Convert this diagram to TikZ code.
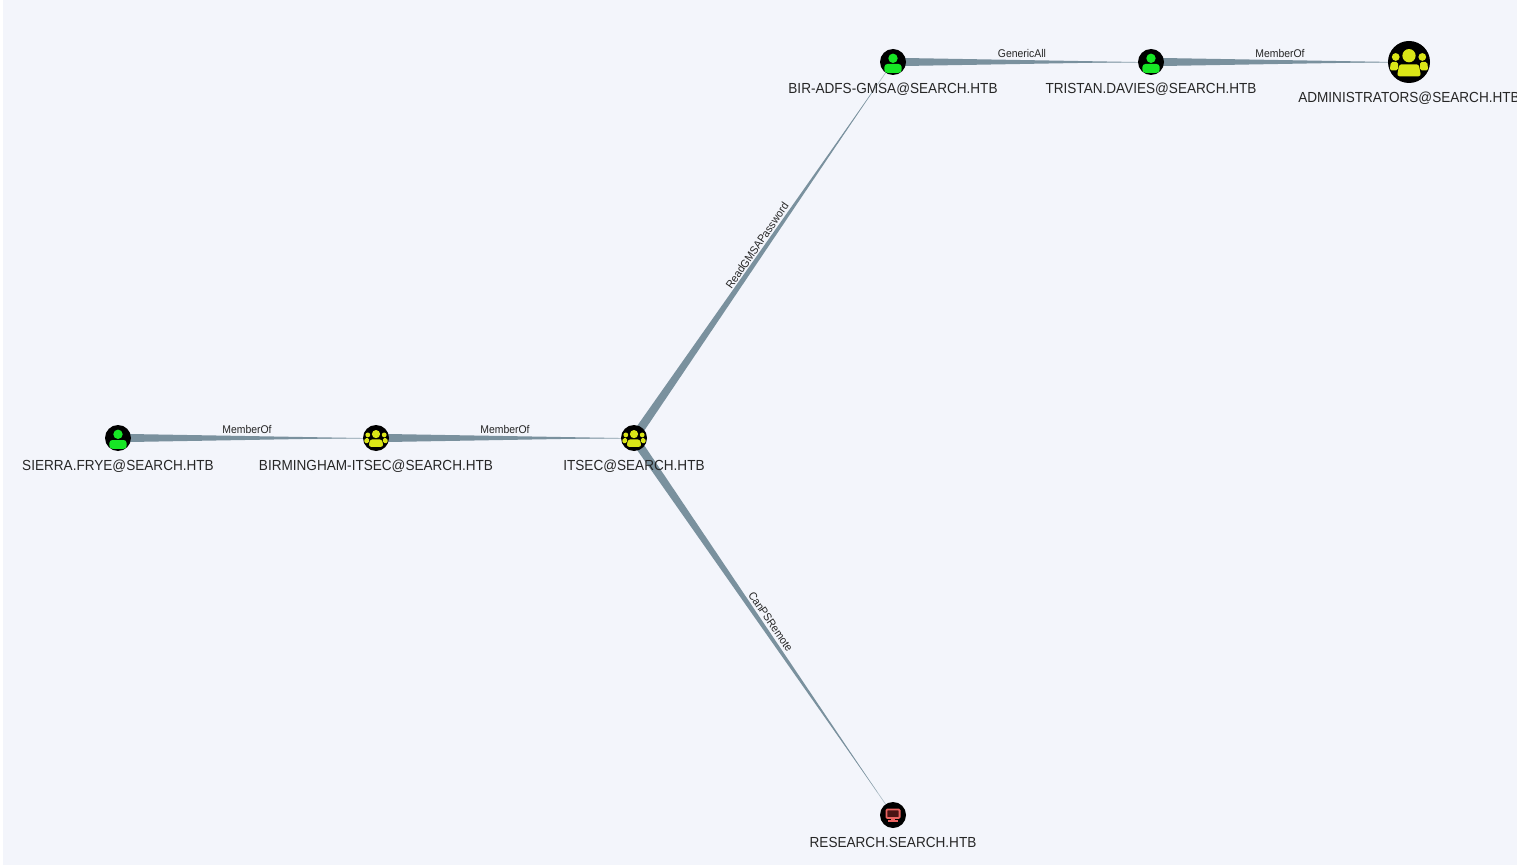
\documentclass[tikz,border=0pt]{standalone}
\usepackage{fontspec}
\setmainfont[FakeStretch=0.93]{Liberation Sans}
\usetikzlibrary{calc,backgrounds}
\definecolor{pagebg}{HTML}{F3F5FB}
\definecolor{edgegray}{HTML}{7A919E}
\definecolor{edgepale}{HTML}{B4C2CB}
\definecolor{usergreen}{HTML}{17E625}
\definecolor{groupyellow}{HTML}{DBE617}
\definecolor{hostred}{HTML}{E9625F}
\definecolor{screendark}{HTML}{4A1414}
\definecolor{labelgray}{HTML}{262626}
\tikzset{
    iconnode/.style={circle, fill=black, inner sep=0pt, minimum size=26pt},
    nodelabel/.style={text=labelgray, font=\fontsize{14.6}{16}\selectfont, inner sep=0pt},
    edgelabel/.style={text=labelgray, font=\fontsize{11.2}{12}\selectfont, inner sep=1.5pt},
    usericon/.pic={
        \fill[usergreen] (0,-3.7) circle (4.7);
        \fill[usergreen, rounded corners=3pt] (-8.6,10.8) -- (-8.6,2) -- (8.6,2) -- (8.6,10.8) -- cycle;
    },
    groupicon/.pic={
        \fill[groupyellow] (0,-3.9) circle (4.1);
        \fill[groupyellow] (-8.2,-3.1) circle (2.4);
        \fill[groupyellow] (8.2,-3.1) circle (2.4);
        \fill[groupyellow, rounded corners=1.6pt] (-11.9,5.1) -- (-11.2,0) -- (-6.8,0) -- (-6.8,5.1) -- cycle;
        \fill[groupyellow, rounded corners=1.6pt] (11.9,5.1) -- (11.2,0) -- (6.8,0) -- (6.8,5.1) -- cycle;
        \fill[groupyellow, rounded corners=2.4pt] (-7.4,8.8) -- (-6,1.4) -- (6,1.4) -- (7.4,8.8) -- cycle;
    },
    hosticon/.pic={
        \draw[hostred, fill=screendark, line width=1.8pt, rounded corners=1pt] (-6.6,-5.6) rectangle (6.6,3);
        \fill[hostred] (-1.6,3.5) rectangle (1.6,6);
        \fill[hostred] (-5,5.4) rectangle (5,7);
    },
}
\newcommand{\taperedge}[3][4.2pt]{%
    \draw[edgepale, line width=0.7pt] (#2.center) -- (#3.center);
    \fill[edgegray] ($(#2.center)!#1!90:(#3.center)$) -- ($(#2.center)!0.94!(#3.center)$)
        -- ($(#2.center)!#1!-90:(#3.center)$) -- cycle;
}
\begin{document}
\begin{tikzpicture}[x=1pt, y=-1pt]
    \useasboundingbox (0,0) rectangle (1517,866);
    \clip (0,0) rectangle (1517,866);

    % nodes
    \node[iconnode] (sierra) at (118,438) {};
    \node[iconnode] (birmingham) at (376,438) {};
    \node[iconnode] (itsec) at (634,438) {};
    \node[iconnode] (biradfs) at (893,62) {};
    \node[iconnode] (tristan) at (1151,62) {};
    \node[iconnode, minimum size=42pt] (admins) at (1409,62) {};
    \node[iconnode] (research) at (893,815) {};

    \pic at (sierra) {usericon};
    \pic at (birmingham) {groupicon};
    \pic at (itsec) {groupicon};
    \pic at (biradfs) {usericon};
    \pic at (tristan) {usericon};
    \pic[scale=1.62] at (admins) {groupicon};
    \pic at (research) {hosticon};

    % node names
    \node[nodelabel] (sierraname) at (118,466) {SIERRA.FRYE@SEARCH.HTB};
    \node[nodelabel] (birminghamname) at (376,466) {BIRMINGHAM-ITSEC@SEARCH.HTB};
    \node[nodelabel] (itsecname) at (634,466) {ITSEC@SEARCH.HTB};
    \node[nodelabel] (biradfsname) at (893,89) {BIR-ADFS-GMSA@SEARCH.HTB};
    \node[nodelabel] (tristanname) at (1151,89) {TRISTAN.DAVIES@SEARCH.HTB};
    \node[nodelabel] (adminsname) at (1409,98) {ADMINISTRATORS@SEARCH.HTB};
    \node[nodelabel] (researchname) at (893,842) {RESEARCH.SEARCH.HTB};

    % edges
    \begin{scope}[on background layer]
        \fill[white] (0,0) rectangle (1517,866);
        \fill[pagebg] (3,0) rectangle (1517,865);
        \taperedge{sierra}{birmingham}
        \taperedge{birmingham}{itsec}
        \taperedge[4.4pt]{itsec}{biradfs}
        \taperedge[4.4pt]{itsec}{research}
        \taperedge{biradfs}{tristan}
        \taperedge{tristan}{admins}
    \end{scope}

    % edge names
    \path (sierra) -- (birmingham) node[edgelabel, midway, above=3pt] (edgeone) {MemberOf};
    \path (birmingham) -- (itsec) node[edgelabel, midway, above=3pt] (edgetwo) {MemberOf};
    \path (itsec) -- (biradfs) node[edgelabel, sloped, midway, above=2pt] (edgethree) {ReadGMSAPassword};
    \path (itsec) -- (research) node[edgelabel, sloped, midway, above=3pt] (edgefour) {CanPSRemote};
    \path (biradfs) -- (tristan) node[edgelabel, midway, above=3pt] (edgefive) {GenericAll};
    \path (tristan.center) -- (admins.center) node[edgelabel, midway, above=3pt] (edgesix) {MemberOf};
\end{tikzpicture}
\end{document}
